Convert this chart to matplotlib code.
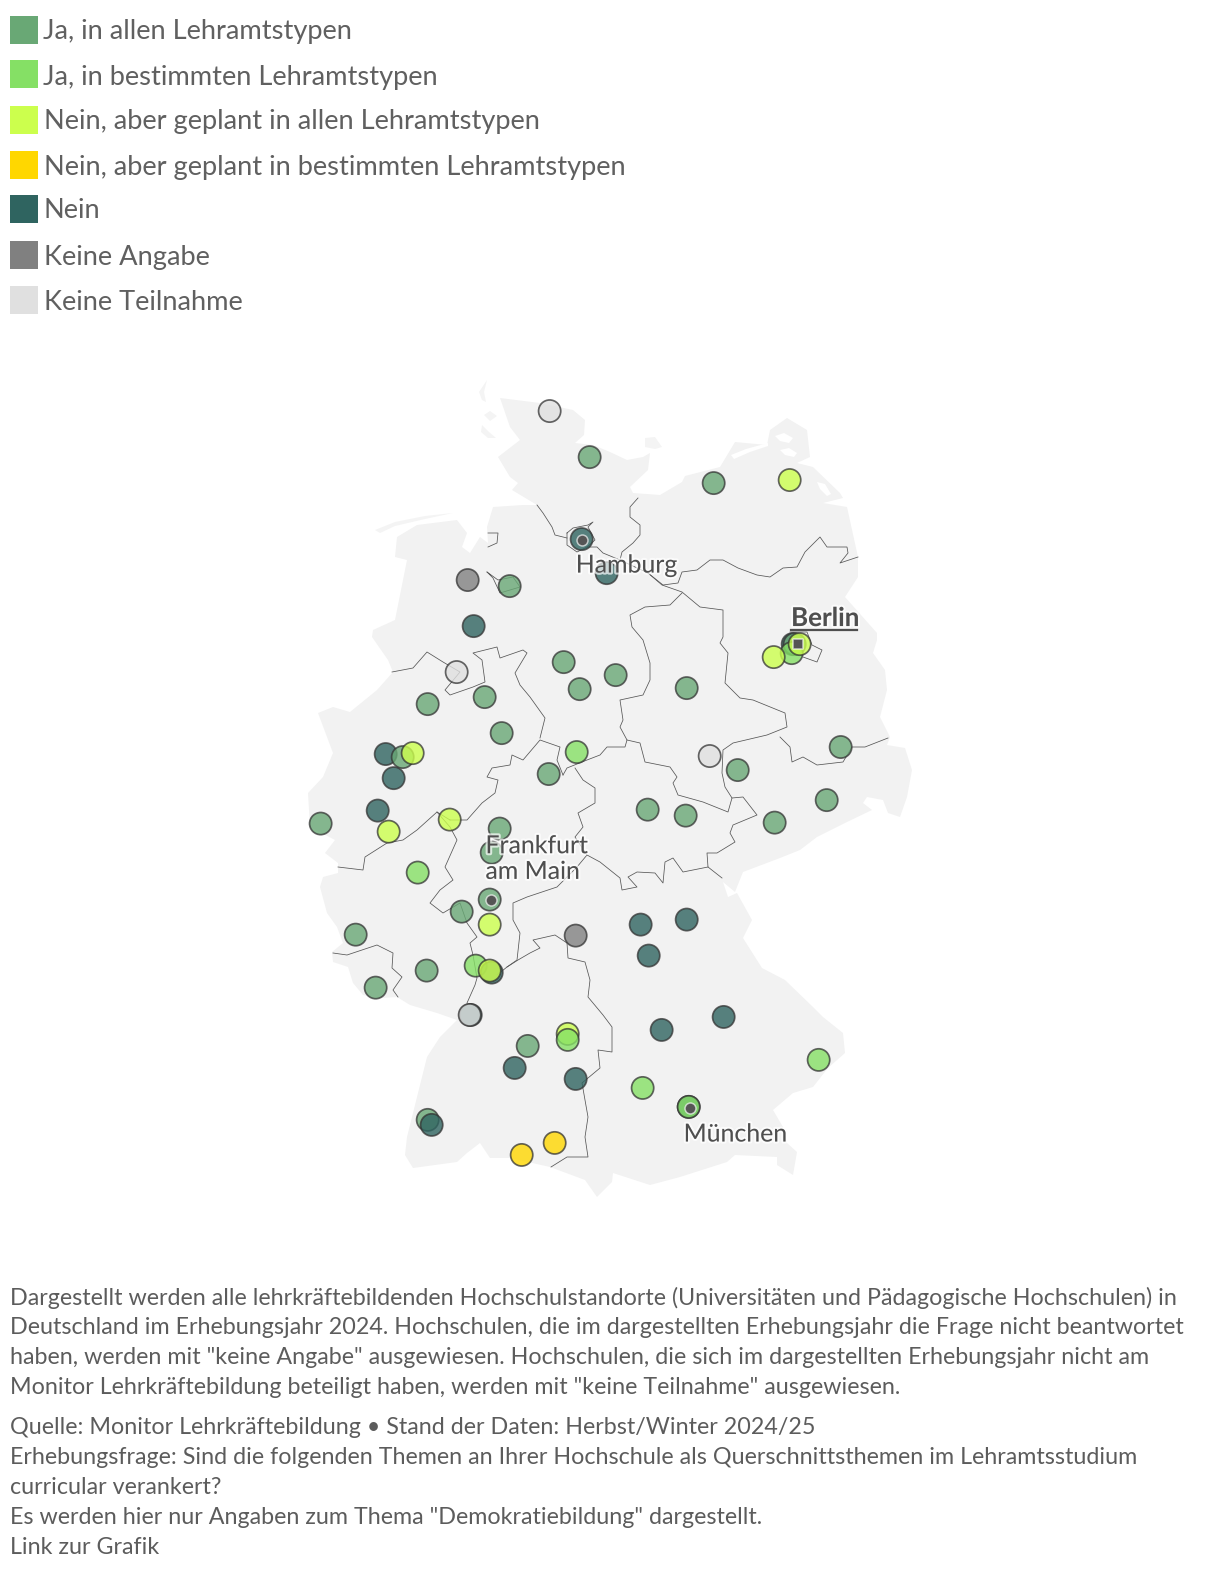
import numpy as np
import matplotlib
matplotlib.use('Agg')
import matplotlib.pyplot as plt
import matplotlib.patheffects as pe
from matplotlib.patches import Rectangle

plt.rcParams['font.family'] = ['Lato', 'DejaVu Sans']

W, H = 1220, 1572

categories = ['Ja, in allen Lehramtstypen', 'Ja, in bestimmten Lehramtstypen',
              'Nein, aber geplant in allen Lehramtstypen',
              'Nein, aber geplant in bestimmten Lehramtstypen',
              'Nein', 'Keine Angabe', 'Keine Teilnahme']
cat_colors = ['#69a875', '#85e065', '#ccff4d', '#ffd700', '#2f6460', '#808080', '#e0e0e0']

# university locations (lon, lat, answer category), in drawing order
school_lon = [9.465, 10.086, 12.012, 13.192, 9.962, 10.350, 8.192, 8.844, 8.285, 9.683,
              10.490, 9.931, 11.593, 8.021, 8.456, 7.571, 8.720, 9.885, 9.450, 11.950,
              12.385, 13.984, 13.767, 12.959, 10.987, 11.577, 6.919, 7.183, 7.338, 7.043,
              6.795, 5.909, 6.965, 7.913, 8.689, 8.565, 7.416, 8.534, 8.099, 8.534,
              6.453, 9.869, 10.878, 11.593, 11.003, 7.555, 6.763, 8.316, 8.565, 8.534,
              8.239, 8.223, 9.124, 9.745, 9.745, 8.922, 9.869, 11.204, 12.167, 13.642,
              10.909, 11.624, 11.624, 7.571, 7.633, 9.543, 9.031,
              13.239, 13.270, 13.223, 12.944, 13.347]
school_lat = [54.764, 54.324, 54.076, 54.105, 53.541, 53.216, 53.150, 53.092, 52.710, 52.366,
              52.242, 52.108, 52.118, 52.271, 52.032, 51.965, 51.688, 51.507, 51.297, 51.469,
              51.335, 51.555, 51.048, 50.833, 50.957, 50.900, 51.488, 51.459, 51.497, 51.258,
              50.948, 50.824, 50.747, 50.862, 50.776, 50.547, 50.356, 50.098, 49.983, 49.859,
              49.763, 49.754, 49.859, 49.907, 49.563, 49.420, 49.257, 49.467, 49.401, 49.420,
              48.996, 48.996, 48.700, 48.815, 48.758, 48.490, 48.385, 48.853, 48.977, 48.567,
              48.299, 48.118, 48.118, 47.994, 47.946, 47.774, 47.659,
              52.538, 52.538, 52.452, 52.414, 52.538]
school_cat = [6, 0, 0, 2, 4, 4, 5, 0, 4, 0,
              0, 0, 0, 6, 0, 0, 0, 1, 0, 6,
              0, 0, 0, 0, 0, 0, 4, 0, 2, 4,
              4, 0, 2, 2, 0, 0, 1, 0, 0, 2,
              0, 5, 4, 4, 4, 0, 0, 1, 4, 2,
              4, 6, 0, 2, 1, 4, 4, 4, 4, 1,
              1, 4, 1, 0, 4, 3, 3,
              4, 0, 1, 2, 2]

city_names = ['Hamburg', 'Frankfurt\nam Main', 'München', 'Berlin']
city_lon = [9.972, 8.554, 11.640, 13.326]
city_lat = [53.532, 50.094, 48.107, 52.536]
label_lon = [9.870, 8.468, 11.545, 13.213]
label_lat = [53.293, 50.490, 47.859, 52.787]

legend_tops = [15.5, 60, 105.5, 151, 195, 241, 286]
legend_text_rows = [31, 77, 121, 167, 210, 257, 302]
legend_text_x = [43, 43, 44, 44, 44, 44, 44]

footer_rows = [1298, 1328, 1357, 1387, 1428, 1458, 1487, 1517, 1547]
footer_lines = [
    'Dargestellt werden alle lehrkräftebildenden Hochschulstandorte (Universitäten und Pädagogische Hochschulen) in',
    'Deutschland im Erhebungsjahr 2024. Hochschulen, die im dargestellten Erhebungsjahr die Frage nicht beantwortet',
    'haben, werden mit "keine Angabe" ausgewiesen. Hochschulen, die sich im dargestellten Erhebungsjahr nicht am',
    'Monitor Lehrkräftebildung beteiligt haben, werden mit "keine Teilnahme" ausgewiesen.',
    'Quelle: Monitor Lehrkräftebildung • Stand der Daten: Herbst/Winter 2024/25',
    'Erhebungsfrage: Sind die folgenden Themen an Ihrer Hochschule als Querschnittsthemen im Lehramtsstudium',
    'curricular verankert?',
    'Es werden hier nur Angaben zum Thema "Demokratiebildung" dargestellt.',
    'Link zur Grafik',
]

# base map, in traced map units
germany = [(500,398),(540,403),(573,410),(585,420),(584,435),(575,443),(593,445),(610,452),(627,460),
           (643,457),(650,453),(648,470),(630,487),(633,493),(660,495),(682,482),(685,476),(720,467),
           (735,442),(767,445),(770,430),(787,418),(807,430),(810,457),(797,463),(813,467),(840,493),
           (843,498),(823,503),(847,507),(858,557),(858,577),(845,597),(877,633),(877,640),(873,653),
           (885,670),(887,690),(880,717),(890,737),(887,745),(905,748),(912,770),(907,797),(900,817),
           (888,813),(883,800),(867,797),(863,803),(872,810),(847,822),(817,837),(800,850),(780,858),
           (743,872),(735,892),(723,882),(728,897),(737,893),(752,920),(743,938),(762,968),(785,980),
           (813,1007),(823,1017),(843,1033),(845,1053),(828,1068),(813,1087),(793,1093),(773,1110),
           (783,1127),(787,1143),(797,1152),(793,1175),(777,1165),(777,1157),(735,1155),(727,1162),
           (680,1177),(650,1185),(613,1173),(612,1182),(597,1197),(585,1180),(550,1167),(510,1158),
           (490,1158),(480,1143),(467,1153),(457,1162),(413,1168),(405,1155),(407,1137),(417,1097),
           (427,1057),(440,1037),(457,1020),(437,1013),(410,1005),(397,997),(382,998),(363,995),
           (353,983),(348,967),(333,962),(332,952),(343,943),(337,927),(327,913),(320,887),(323,877),
           (338,873),(338,863),(325,853),(335,840),(310,827),(308,793),(323,777),(333,753),(318,713),
           (333,707),(350,712),(377,690),(393,672),(388,660),(372,637),(373,630),(395,620),(407,560),
           (395,557),(397,537),(417,525),(457,520),(467,533),(462,547),(470,553),(480,537),(488,543),
           (487,527),(493,507),(523,505),(537,505),(512,490),(518,483),(510,477),(498,457),(520,440),
           (510,427)]
islands = [
    [(482,400),(479,392),(487,380),(484,392),(486,402)],
    [(484,415),(490,411),(497,416),(490,421)],
    [(482,425),(489,432),(496,438),(488,438),(481,432)],
    [(375,530),(395,522),(425,516),(453,513),(425,519),(395,526),(380,533)],
    [(645,438),(655,437),(662,447),(655,449),(645,447)],
]
# lagoons and bays along the Baltic coast
water = [
    [(731,455),(746,449),(768,443),(768,446),(750,452),(734,459)],
    [(775,436),(784,433),(793,438),(789,443),(780,441)],
    [(780,450),(789,448),(797,453),(794,457),(785,455)],
    [(817,482),(825,484),(831,494),(827,496),(820,489)],
]
borders = [
    # Elbe, Hamburg, Elbe upstream to Brandenburg
    [(537,505),(543,513),(552,527),(555,535),(567,538)],
    [(567,533),(567,545),(577,552),(587,547),(595,540),(588,527),(593,522),(588,525),(573,528),(567,533)],
    [(587,547),(597,547),(603,553),(620,560),(635,567),(648,573)],
    [(648,573),(662,585),(682,592),(700,607),(723,610),(723,637),(720,643),(728,653),(725,683),(740,698),
     (753,700),(785,713),(787,727),(767,735),(733,743),(723,750),(722,773),(725,787),(732,798),(728,812),
     (703,802),(678,795),(673,783),(677,777),(670,767),(645,762),(640,743),(627,740)],
    # Schleswig-Holstein / Mecklenburg
    [(638,498),(630,507),(630,517),(640,525),(640,535),(633,543),(622,552),(620,560)],
    # Mecklenburg / Brandenburg
    [(648,573),(663,585),(678,583),(682,572),(697,570),(710,560),(723,560),(738,568),(757,575),(770,577),
     (783,568),(797,567),(805,552),(820,537),(827,547),(847,547),(848,553),(840,563),(858,557)],
    # Sachsen-Anhalt / Niedersachsen
    [(682,593),(670,605),(645,607),(630,615),(632,627),(643,640),(650,663),(650,680),(643,695),(620,700),
     (623,720),(620,727),(627,740),(625,747),(607,747),(600,755),(587,760),(567,768),(563,775)],
    # Brandenburg / Sachsen
    [(780,737),(790,747),(792,762),(803,757),(817,765),(843,762),(852,747),(865,747),(888,738)],
    # Sachsen / Thueringen / Bayern
    [(732,798),(743,797),(757,815),(733,825),(730,833),(735,842),(717,853),(707,853),(708,867),(722,878)],
    [(708,867),(683,872),(673,858),(665,862),(663,883),(655,873),(637,872),(628,877),(637,887),(622,890),
     (620,878),(600,862),(587,855),(577,867),(557,887),(527,897),(513,903),(513,920),(520,933),
     (517,960),(507,967),(497,975)],
    # Hessen / Thueringen
    [(575,768),(583,780),(595,788),(595,803),(578,813),(583,827),(575,837),(587,855)],
    # Hessen / Nordrhein-Westfalen / Niedersachsen
    [(450,820),(467,820),(482,803),(495,793),(498,780),(487,777),(492,768),(510,765),(512,755),(523,760),
     (540,740),(560,747),(557,760),(563,775)],
    [(392,672),(413,668),(427,652),(443,662),(460,672),(445,690),(450,695),(473,687),(485,682),(482,660),
     (473,653),(497,647),(500,658),(523,650),(527,653),(515,673),(520,685),(530,697),(545,718),(540,738)],
    # Rheinland-Pfalz
    [(450,820),(437,812),(417,830),(403,840),(387,843),(365,857),(363,870),(338,867)],
    [(437,812),(450,827),(457,840),(445,867),(453,880),(440,890),(430,903),(443,913),(460,903),(467,923),
     (477,937),(470,943),(473,955),(477,978),(475,985),(467,1003)],
    [(333,953),(347,955),(377,945),(393,953),(392,968),(402,977),(393,990),(398,997)],
    # Baden-Wuerttemberg / Bayern
    [(507,967),(518,960),(530,953),(540,948),(533,940),(555,935),(567,943),(568,958),(585,962),(590,980),
     (588,997),(603,1015),(612,1027),(612,1052),(598,1050),(600,1068),(582,1083),(588,1117),(585,1137),
     (588,1157),(567,1157),(551,1167)],
    # Bremen, Bremerhaven, Berlin
    [(488,533),(498,533),(497,543),(488,547)],
    [(487,572),(498,580),(513,577),(520,587),(500,593),(493,578),(487,572)],
    [(790,632),(807,632),(812,645),(822,650),(817,662),(803,657)],
]

PX_PER_LON = 64.4
PX_PER_LAT = 104.7
LON0, LAT0 = 0.93, 58.69


def to_geo(pts):
    a = np.array(pts, dtype=float)
    return LON0 + a[:, 0] / PX_PER_LON, LAT0 - a[:, 1] / PX_PER_LAT


fig = plt.figure(figsize=(W / 100, H / 100), dpi=100)
ax = fig.add_axes([0, 0, 1, 1])
ax.set_xlim(LON0, LON0 + W / PX_PER_LON)
ax.set_ylim(LAT0 - H / PX_PER_LAT, LAT0)
ax.axis('off')

x, y = to_geo(germany)
ax.fill(x, y, color='#f2f2f2', lw=0, zorder=1)
for part in islands:
    x, y = to_geo(part)
    ax.fill(x, y, color='#f4f4f4', lw=0, zorder=1)
for part in water:
    x, y = to_geo(part)
    ax.fill(x, y, color='white', lw=0, zorder=1.5)
for line in borders:
    x, y = to_geo(line)
    ax.plot(x, y, color='#555555', lw=0.55, zorder=2)

face = [matplotlib.colors.to_rgba(cat_colors[c], 0.8) for c in school_cat]
ax.scatter(school_lon, school_lat, s=255, c=face, edgecolors=(0.2, 0.2, 0.2, 0.75),
           linewidths=1.25, zorder=3)

# city markers
ax.scatter(city_lon[:3], city_lat[:3], s=62, c='#555555', marker='o',
           edgecolors=(1, 1, 1, 0.65), linewidths=1.1, zorder=4)
ax.scatter(city_lon[3:], city_lat[3:], s=52, c='#555555', marker='s',
           edgecolors=(1, 1, 1, 0.65), linewidths=1.1, zorder=4)

halo = [pe.withStroke(linewidth=3, foreground=(1, 1, 1, 0.7))]
for i, name in enumerate(city_names):
    bold = name == 'Berlin'
    ax.text(label_lon[i], label_lat[i], name, fontsize=18.7 if bold else 17.9, color='#4f4f4f',
            va='center', ha='left', linespacing=1.14, path_effects=halo, zorder=5,
            fontweight='bold' if bold else 'normal')
ax.plot([label_lon[3], label_lon[3] + 66 / PX_PER_LON], [label_lat[3] - 12 / PX_PER_LAT] * 2,
        color='#4f4f4f', lw=1.6, zorder=5)

# legend and footer are placed in picture rows
for top, row, tx, label, col in zip(legend_tops, legend_text_rows, legend_text_x, categories, cat_colors):
    fig.add_artist(Rectangle((10 / W, 1 - (top + 28) / H), 28 / W, 28 / H, color=col, lw=0,
                             transform=fig.transFigure))
    fig.text(tx / W, 1 - row / H, label, fontsize=19.6, color='#606060', va='center', ha='left')

for row, line in zip(footer_rows, footer_lines):
    fig.text(10.5 / W, 1 - row / H, line, fontsize=16.75, color='#5c5c5c', va='center', ha='left')

fig.savefig('out.png', dpi=100, facecolor='white')
